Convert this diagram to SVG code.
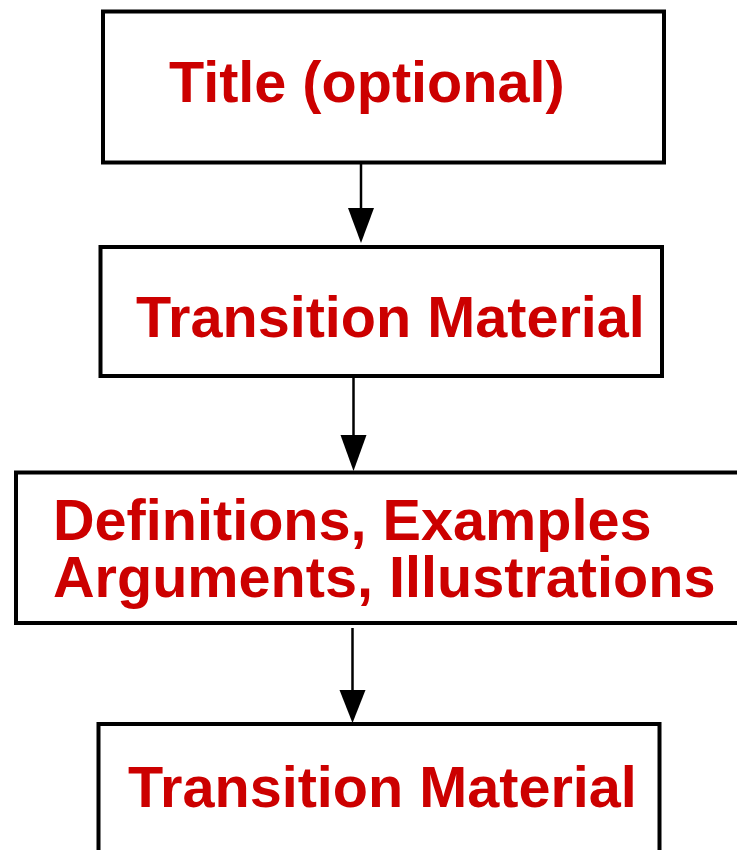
<svg xmlns="http://www.w3.org/2000/svg" width="737" height="850" viewBox="0 0 737 850">
<style>
.box{fill:#ffffff;stroke:#000000;stroke-width:4}
.lbl{font-family:"Liberation Sans",Arial,sans-serif;font-weight:bold;font-size:57.6px;fill:#cc0000}
.ln{stroke:#000000;stroke-width:2.5;fill:none}
.ah{fill:#000000;stroke:none}
</style>
<rect width="737" height="850" fill="#ffffff"/>
<g id="connectors">
<line class="ln" x1="361" y1="163" x2="361" y2="212"/>
<polygon class="ah" points="348,208 374,208 361,243"/>
<line class="ln" x1="353.5" y1="376" x2="353.5" y2="438"/>
<polygon class="ah" points="340.5,435 366.5,435 353.5,471"/>
<line class="ln" x1="352.5" y1="628" x2="352.5" y2="693"/>
<polygon class="ah" points="339.5,690 365.5,690 352.5,723"/>
</g>
<g id="node-title">
<rect class="box" x="103" y="11.5" width="561" height="151"/>
<text class="lbl" x="169" y="102">Title (optional)</text>
</g>
<g id="node-transition1">
<rect class="box" x="100.5" y="247" width="561.5" height="129"/>
<text class="lbl" x="136" y="337">Transition Material</text>
</g>
<g id="node-body">
<rect class="box" x="16" y="472.5" width="740" height="150.5"/>
<text class="lbl" x="53" y="540">Definitions, Examples</text>
<text class="lbl" x="53" y="597">Arguments, Illustrations</text>
</g>
<g id="node-transition2">
<rect class="box" x="98.5" y="724" width="561" height="150"/>
<text class="lbl" x="128" y="807">Transition Material</text>
</g>
</svg>
